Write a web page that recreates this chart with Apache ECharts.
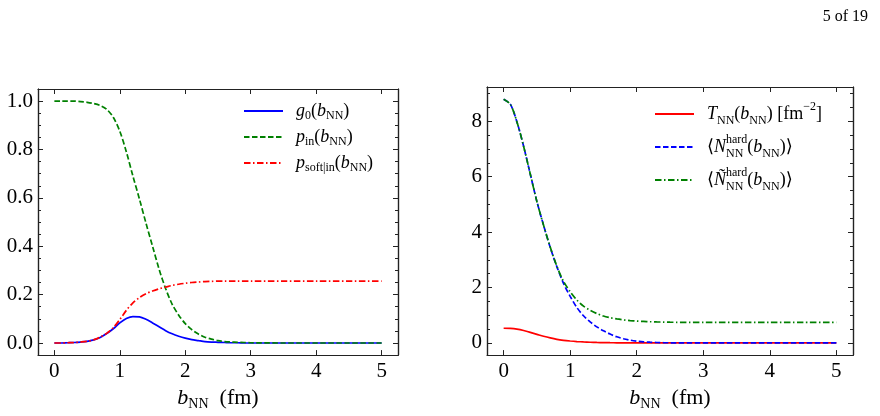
<!DOCTYPE html>
<html><head><meta charset="utf-8">
<script src="https://cdn.jsdelivr.net/npm/echarts@6/dist/echarts.min.js"></script>
<style>html,body{margin:0;padding:0;background:#fff}#c{width:880px;height:416px}</style>
</head><body><div id="c"></div>
<script>
// impact parameter samples (fm)
const bVals = [0,0.1,0.2,0.3,0.4,0.5,0.6,0.7,0.8,0.9,1.0,1.1,1.2,1.3,1.4,1.5,1.6,1.7,1.8,1.9,2.0,2.1,2.2,2.3,2.4,2.5,2.6,2.7,2.8,2.9,3.0,3.5,4.0,4.5,5.0];
// left panel
const g0Vals    = [0,0,0.001,0.002,0.004,0.007,0.013,0.023,0.039,0.059,0.083,0.101,0.109,0.108,0.098,0.083,0.067,0.051,0.038,0.028,0.020,0.014,0.010,0.006,0.004,0.003,0.002,0.001,0.001,0,0,0,0,0,0];
const pinVals   = [1,1,1,1,0.998,0.995,0.99,0.982,0.966,0.933,0.875,0.79,0.69,0.595,0.495,0.40,0.305,0.225,0.16,0.115,0.08,0.055,0.037,0.024,0.016,0.010,0.006,0.004,0.003,0.002,0.001,0,0,0,0];
const psoftVals = [0,0,0.001,0.002,0.004,0.007,0.013,0.024,0.040,0.063,0.097,0.135,0.166,0.188,0.204,0.215,0.224,0.231,0.238,0.243,0.247,0.250,0.252,0.254,0.255,0.256,0.256,0.256,0.256,0.256,0.256,0.256,0.256,0.256,0.256];
// right panel
const tVals     = [0.53,0.525,0.50,0.45,0.38,0.31,0.24,0.18,0.13,0.095,0.07,0.05,0.035,0.024,0.016,0.011,0.007,0.005,0.003,0.002,0.001,0,0,0,0,0,0,0,0,0,0,0,0,0,0];
const nHardVals = [8.8,8.62,7.98,7.1,6.1,5.1,4.25,3.45,2.75,2.15,1.68,1.28,0.98,0.76,0.58,0.44,0.32,0.22,0.15,0.10,0.065,0.04,0.025,0.015,0.009,0.005,0.003,0.002,0.001,0,0,0,0,0,0];
const nTilVals  = [8.8,8.62,7.98,7.1,6.1,5.1,4.25,3.46,2.77,2.22,1.85,1.55,1.33,1.18,1.06,0.97,0.91,0.865,0.83,0.805,0.787,0.775,0.765,0.757,0.752,0.748,0.745,0.743,0.742,0.741,0.74,0.74,0.74,0.74,0.74];
// ticks
const xTicks = [0,1,2,3,4,5];
const leftMajorY = [0,0.2,0.4,0.6,0.8,1.0];
const leftMinorY = [0.05,0.1,0.15,0.25,0.3,0.35,0.45,0.5,0.55,0.65,0.7,0.75,0.85,0.9,0.95];
const rightMajorY = [0,2,4,6,8];
const rightMinorY = [0.5,1,1.5,2.5,3,3.5,4.5,5,5.5,6.5,7,7.5,8.5,9];

const FONT = 'Liberation Serif, DejaVu Serif, serif';
const INK = '#222';
const zip = (ys) => bVals.map((b, i) => [b, ys[i]]);

function mkRich(fs, lh, sfs) {
  return {
    r:   {fontFamily: FONT, fontSize: fs, lineHeight: lh, color: '#000'},
    i:   {fontFamily: FONT, fontSize: fs, lineHeight: lh, fontStyle: 'italic', color: '#000'},
    sub: {fontFamily: FONT, fontSize: sfs, lineHeight: sfs, verticalAlign: 'bottom', color: '#000'},
    subz:{fontFamily: FONT, fontSize: sfs, lineHeight: sfs, verticalAlign: 'bottom', width: 0, color: '#000'},
    sup: {fontFamily: FONT, fontSize: sfs, lineHeight: sfs, verticalAlign: 'top', color: '#000'}
  };
}

function xAx(gi, pos, withLabels) {
  const ax = {
    type: 'value', gridIndex: gi, position: pos, min: -0.25, max: 5.25,
    axisLine: {show: true, onZero: false, lineStyle: {color: INK, width: 1.2}},
    axisTick: {show: true, inside: true, length: 5, customValues: xTicks, lineStyle: {color: INK, width: 1}},
    axisLabel: {show: withLabels, customValues: xTicks, margin: 6, color: '#000', fontFamily: FONT, fontSize: 21},
    splitLine: {show: false}
  };
  if (withLabels) {
    ax.name = '{i|b}{sub|NN}{r|\u2002(fm)}';
    ax.nameLocation = 'middle';
    ax.nameGap = 25;
    ax.nameTextStyle = {rich: mkRich(22, 26, 14)};
  }
  return ax;
}
function yAx(gi, pos, min, max, ticks, len, withLabels, fmt) {
  return {
    type: 'value', gridIndex: gi, position: pos, min: min, max: max,
    axisLine: {show: true, onZero: false, lineStyle: {color: INK, width: 1.2}},
    axisTick: {show: true, inside: true, length: len, customValues: ticks, lineStyle: {color: INK, width: 1}},
    axisLabel: {show: withLabels, customValues: ticks, margin: 5, color: '#000', fontFamily: FONT, fontSize: 21, formatter: fmt},
    splitLine: {show: false}
  };
}
const f1 = v => Number(v).toFixed(1);
const f0 = v => String(Math.round(v));

function line(name, xi, yi, data, color, type) {
  return {
    name: name, type: 'line', xAxisIndex: xi, yAxisIndex: yi, data: data,
    symbol: 'none', showSymbol: false, smooth: 0.3,
    lineStyle: {color: color, width: 1.7, type: type}, itemStyle: {color: color},
    emphasis: {disabled: true}, silent: true
  };
}
const DASH = [5.5, 2.5];
const DASHDOT = [6.5, 2.5, 1.5, 2.5];

const labelsL = {
  g0: '{i|g}{sub|0}{r|(}{i|b}{sub|NN}{r|)}',
  pin: '{i|p}{sub|in}{r|(}{i|b}{sub|NN}{r|)}',
  psoft: '{i|p}{sub|soft|in}{r|(}{i|b}{sub|NN}{r|)}'
};
const labelsR = {
  T: '{i|T}{sub|NN}{r|(}{i|b}{sub|NN}{r|) [fm}{sup|\u22122}{r|]}',
  N: '{r|\u27E8}{i|N}{subz|NN}{sup|hard}{r|(}{i|b}{sub|NN}{r|)\u27E9}',
  Nt: '{r|\u27E8}{i|\u00D1}{subz|NN}{sup|hard}{r|(}{i|b}{sub|NN}{r|)\u27E9}'
};

const legendBase = {
  orient: 'vertical', padding: 0, itemWidth: 39, itemHeight: 14, selectedMode: false,
  itemStyle: {opacity: 0, borderWidth: 0}
};

const chart = echarts.init(document.getElementById('c'), null, {renderer: 'canvas'});
chart.setOption({
  animation: false,
  backgroundColor: '#fff',
  textStyle: {fontFamily: FONT},
  title: {text: '5 of 19', right: 7, top: 4, textStyle: {fontFamily: FONT, fontSize: 16, fontWeight: 'normal', color: '#000'}},
  grid: [
    {left: 38, top: 89, width: 360, height: 269},
    {left: 487, top: 87, width: 366, height: 272}
  ],
  xAxis: [xAx(0, 'bottom', true), xAx(0, 'top', false), xAx(1, 'bottom', true), xAx(1, 'top', false)],
  yAxis: [
    yAx(0, 'left', -0.05, 1.05, leftMajorY, 5, true, f1),
    yAx(0, 'right', -0.05, 1.05, leftMajorY, 5, false, f1),
    yAx(0, 'left', -0.05, 1.05, leftMinorY, 3, false, f1),
    yAx(0, 'right', -0.05, 1.05, leftMinorY, 3, false, f1),
    yAx(1, 'left', -0.44, 9.24, rightMajorY, 5, true, f0),
    yAx(1, 'right', -0.44, 9.24, rightMajorY, 5, false, f0),
    yAx(1, 'left', -0.44, 9.24, rightMinorY, 3, false, f0),
    yAx(1, 'right', -0.44, 9.24, rightMinorY, 3, false, f0)
  ],
  legend: [
    Object.assign({}, legendBase, {data: ['g0', 'pin', 'psoft'], left: 243, top: 102, itemGap: 6,
     formatter: n => labelsL[n],
     textStyle: {padding: [0, 0, 0, 8], rich: mkRich(18, 22, 12)}}),
    Object.assign({}, legendBase, {data: ['T', 'N', 'Nt'], left: 654, top: 101, itemGap: 7,
     formatter: n => labelsR[n],
     textStyle: {padding: [0, 0, 0, 8], rich: mkRich(18, 26, 12)}})
  ],
  series: [
    line('g0', 0, 0, zip(g0Vals), '#0000ff', 'solid'),
    line('pin', 0, 0, zip(pinVals), '#008000', DASH),
    line('psoft', 0, 0, zip(psoftVals), '#ff0000', DASHDOT),
    line('T', 2, 4, zip(tVals), '#ff0000', 'solid'),
    line('N', 2, 4, zip(nHardVals), '#0000ff', DASH),
    line('Nt', 2, 4, zip(nTilVals), '#008000', DASHDOT)
  ]
});
</script></body></html>
